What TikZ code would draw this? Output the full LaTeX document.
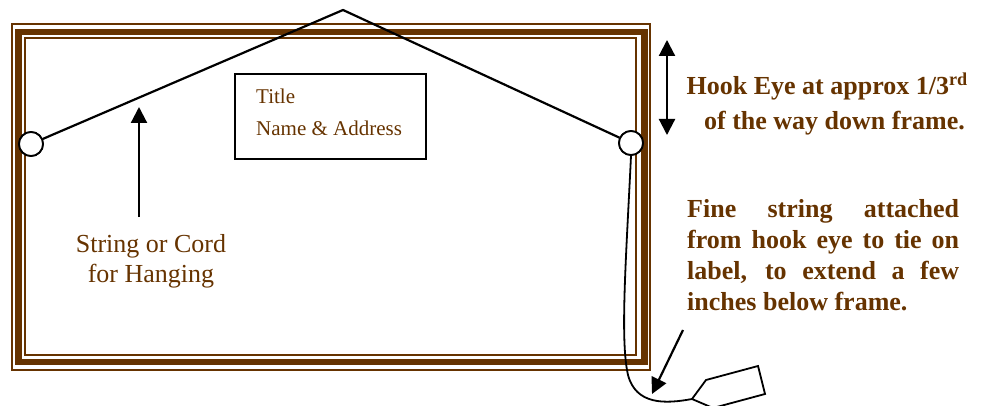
\documentclass[tikz,border=0pt]{standalone}
\usepackage{fontspec}
\setmainfont{Liberation Serif}
\usetikzlibrary{arrows.meta}
\definecolor{frbrown}{RGB}{102,51,0}
\tikzset{
  framethin/.style={draw=frbrown,line width=2pt},
  framethick/.style={draw=frbrown,line width=6.5pt},
  cord/.style={draw=black,line width=2.2pt},
  hookeye/.style={circle,draw=black,fill=white,line width=1.8pt,minimum size=24pt,inner sep=0pt},
  pointer/.style={draw=black,line width=2.2pt,-{Triangle[length=16pt,width=16pt]}},
  twoway/.style={draw=black,line width=2.2pt,{Triangle[length=16pt,width=16pt]}-{Triangle[length=16pt,width=16pt]}},
  labeltxt/.style={text=frbrown,inner sep=0pt,font=\fontsize{26}{30}\selectfont},
  boxtxt/.style={text=frbrown,inner sep=0pt,font=\fontsize{21}{26}\selectfont},
  notetxt/.style={text=frbrown,inner sep=0pt,font=\fontsize{26}{31}\selectfont\bfseries},
  labelbox/.style={draw=black,line width=2pt},
  tag/.style={draw=black,line width=1.8pt,fill=white}
}
\begin{document}
\begin{tikzpicture}[x=1pt,y=-1pt]
\useasboundingbox (0,0) rectangle (987,406);
\clip (0,0) rectangle (987,406);
% frame
\draw[framethin] (12,24.5) rectangle (650,369.5);
\draw[framethick] (18.5,32) rectangle (644.5,362);
\draw[framethin] (25,38) rectangle (636,355);
% title label box
\draw[labelbox] (235,74) rectangle (426,159);
\node[boxtxt,anchor=base west] (title) at (256,104) {Title};
\node[boxtxt,anchor=base west] (name) at (256,136) {Name \& Address};
% hanging cord
\coordinate (peak) at (343,10);
\node[hookeye] (hookL) at (31,144) {};
\node[hookeye] (hookR) at (631,143) {};
\draw[cord,line join=miter] (hookL) -- (peak) -- (hookR);
\node[hookeye] at (31,144) {};
\node[hookeye] at (631,143) {};
% tag
\coordinate (tagtip) at (692,399);
\draw[tag] (tagtip) -- (706,380) -- (758,366) -- (765,394) -- (713,408) -- cycle;
% fine string
\draw[black,line width=1.8pt] (hookR.south) .. controls (626,260) and (620,340) .. (628,375)
  .. controls (636,405) and (665,404) .. (tagtip);
% arrows
\coordinate (upS) at (139,217);
\coordinate (upE) at (139,107);
\draw[pointer] (upS) -- (upE);
\coordinate (dA) at (667,40);
\coordinate (dB) at (667,135);
\draw[twoway] (dA) -- (dB);
\coordinate (diagS) at (683,330);
\coordinate (diagE) at (652,394);
\draw[pointer] (diagS) -- (diagE);
% labels
\node[labeltxt,anchor=base] (cord1) at (151,252) {String or Cord};
\node[labeltxt,anchor=base] (cord2) at (151,282) {for Hanging};
\node[notetxt,anchor=base east] (hook1) at (968,95) {Hook Eye at approx 1/3\textsuperscript{rd}};
\node[notetxt,anchor=base east] (hook2) at (965,130) {of the way down frame.};
\node[notetxt,anchor=base west] (fine1) at (687,217) {\makebox[272pt][s]{Fine string attached}};
\node[notetxt,anchor=base west] (fine2) at (687,248) {\makebox[272pt][s]{from hook eye to tie on}};
\node[notetxt,anchor=base west] (fine3) at (687,279) {\makebox[272pt][s]{label, to extend a few}};
\node[notetxt,anchor=base west] (fine4) at (687,310) {inches below frame.};
\end{tikzpicture}
\end{document}
